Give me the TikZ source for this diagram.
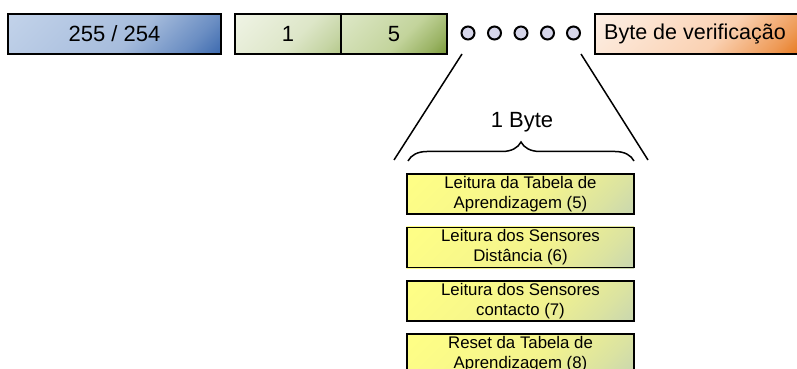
\documentclass[tikz,border=0pt]{standalone}
\usepackage{fontspec}
\setmainfont{Liberation Sans}
\usetikzlibrary{decorations.pathreplacing,backgrounds}
\colorlet{gLt}{white}\colorlet{gMd}{gray}\colorlet{gDk}{black}\colorlet{gMx}{gray}
\pgfdeclareverticalshading[gLt,gMd,gDk,gMx]{diag}{100bp}{color(0bp)=(gDk); color(25bp)=(gDk); color(33bp)=(gMx); color(46bp)=(gMd); color(75bp)=(gLt); color(100bp)=(gLt)}
\newcommand\gradfill[6]{% node, width, height, light, mid, dark
  \colorlet{gLt}{#4}\colorlet{gMd}{#5}\colorlet{gDk}{#6}\colorlet{gMx}{#6!55!#5}%
  \pgfmathsetmacro\gL{(#2+#3)/2.8284+1}%
  \begin{scope}
    \clip (#1.south west) rectangle (#1.north east);
    \begin{scope}[transform canvas={rotate around={45:(#1.center)}}]
      \shade[shading=diag] ([shift={(-\gL,-\gL)}]#1.center) rectangle ([shift={(\gL,\gL)}]#1.center);
    \end{scope}
  \end{scope}}
\definecolor{bluelt}{HTML}{C3D3EA}
\definecolor{bluemd}{HTML}{A6BCDC}
\definecolor{bluedk}{HTML}{3A68AE}
\definecolor{greenlt}{HTML}{F0F4E6}
\definecolor{greenmd}{HTML}{DDE6C8}
\definecolor{greendk}{HTML}{B3C788}
\definecolor{greenlt2}{HTML}{DEE8C8}
\definecolor{greenmd2}{HTML}{C3D49C}
\definecolor{greendk2}{HTML}{789836}
\definecolor{orangelt}{HTML}{FDF0E6}
\definecolor{orangemd}{HTML}{FAD1B2}
\definecolor{orangedk}{HTML}{E46C0A}
\definecolor{yellowlt}{HTML}{FFFF85}
\definecolor{yellowmd}{HTML}{F3F38E}
\definecolor{yellowdk}{HTML}{C8D6B0}
\definecolor{dotfill}{HTML}{D6D6EA}
\tikzset{
  topbox/.style={draw=black, line width=1.6pt, minimum height=40pt, inner sep=0pt,
    font=\fontsize{22}{24}\selectfont},
  ybox/.style={draw=black, line width=1.6pt, minimum width=227pt, minimum height=40pt,
    inner sep=0pt, align=center, font=\fontsize{16.8}{20}\selectfont},
  dot/.style={circle, draw=black, line width=2pt, fill=dotfill, minimum size=13pt, inner sep=0pt},
  thin line/.style={line width=1.5pt},
}
\begin{document}
\begin{tikzpicture}[x=1pt,y=1pt]
\clip (0,0) rectangle (797,369);
% top row
\node[topbox, minimum width=213pt] (hdr) at (114.5,335) {255 / 254};
\node[topbox, minimum width=106pt] (b1) at (288,335) {1};
\node[topbox, minimum width=106pt] (b5) at (394,335) {5};
\foreach \i/\x in {1/468,2/494.5,3/521,4/547.5,5/573.5}
  \node[dot] (d\i) at (\x,336) {};
\node[topbox, minimum width=215pt, anchor=west] (chk) at (594,335) {};
\node[anchor=west, font=\fontsize{21.5}{24}\selectfont, inner sep=0pt] (chktxt) at (604,335.5) {Byte de verificação};
% expansion lines
\coordinate (lt) at (462,315);
\coordinate (lb) at (394,209);
\coordinate (rt) at (581,315);
\coordinate (rb) at (648,209);
\draw[thin line] (lt) -- (lb);
\draw[thin line] (rt) -- (rb);
% brace
\coordinate (bl) at (408,208);
\coordinate (br) at (634,208);
\draw[thin line, decorate, decoration={brace, amplitude=19pt}] (bl) -- (br);
\node[font=\fontsize{22}{24}\selectfont, inner sep=0pt] (byte) at (522,247) {1 Byte};
% yellow boxes
\node[ybox] (y1) at (520.5,175) {Leitura da Tabela de\\Aprendizagem (5)};
\node[ybox] (y2) at (520.5,121.5) {Leitura dos Sensores\\Distância (6)};
\node[ybox] (y3) at (520.5,68) {Leitura dos Sensores\\contacto (7)};
\node[ybox] (y4) at (520.5,15) {Reset da Tabela de\\Aprendizagem (8)};
% background and gradient fills
\begin{pgfonlayer}{background}
\fill[white] (0,0) rectangle (797,369);
\gradfill{hdr}{213}{40}{bluelt}{bluemd}{bluedk}
\gradfill{b1}{106}{40}{greenlt}{greenmd}{greendk}
\gradfill{b5}{106}{40}{greenlt2}{greenmd2}{greendk2}
\gradfill{chk}{215}{40}{orangelt}{orangemd}{orangedk}
\foreach \n in {y1,y2,y3,y4}{\gradfill{\n}{227}{40}{yellowlt}{yellowmd}{yellowdk}}
\end{pgfonlayer}
\end{tikzpicture}
\end{document}
